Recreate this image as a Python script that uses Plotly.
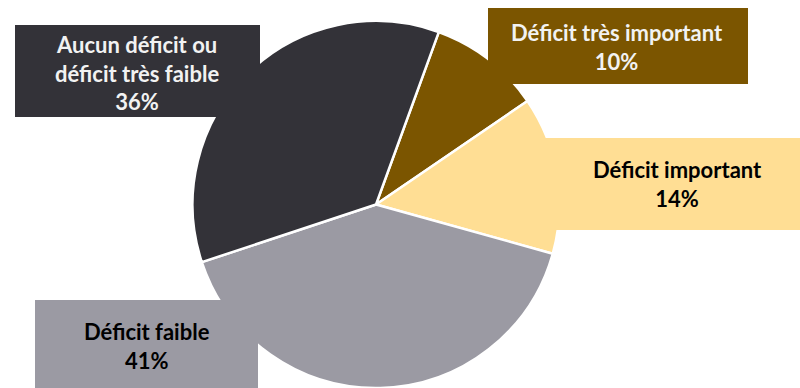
import plotly.graph_objects as go

categories = ["Déficit très important", "Déficit important", "Déficit faible",
              "Aucun déficit ou<br>déficit très faible"]
values = [10, 14, 41, 36]
colors = ["#7B5500", "#FFDE94", "#9B9AA3", "#333238"]
text_colors = ["#F2F2F2", "#000000", "#000000", "#F2F2F2"]

W, H = 800, 388

fig = go.Figure(go.Pie(
    labels=categories, values=values, sort=False, direction="clockwise",
    rotation=20, textinfo="none", hoverinfo="label+percent",
    marker=dict(colors=colors, line=dict(color="white", width=2.5)),
    domain=dict(x=[192 / W, 560 / W], y=[0, 367 / H]),
    showlegend=False,
))

# label boxes: (x0, y0, x1, y1) in pixels from top-left, text center
boxes = [
    (488, 8, 748, 84, 617, 47),
    (535, 138, 800, 230, 677, 184),
    (35, 300, 258, 388, 147, 346),
    (15, 25, 260, 117, 137, 73),
]

shapes, annotations = [], []
for (x0, y0, x1, y1, cx, cy), cat, v, c, tc in zip(boxes, categories, values, colors, text_colors):
    shapes.append(dict(type="rect", xref="paper", yref="paper", layer="above",
                       x0=x0 / W, x1=x1 / W, y0=1 - y1 / H, y1=1 - y0 / H,
                       fillcolor=c, line=dict(width=0)))
    annotations.append(dict(xref="paper", yref="paper", x=cx / W, y=1 - cy / H,
                            text=f"<b>{cat}<br>{v}%</b>", showarrow=False,
                            xanchor="center", yanchor="middle", align="center",
                            font=dict(family="Lato", size=22, color=tc)))

fig.update_layout(width=W, height=H, margin=dict(l=0, r=0, t=0, b=0),
                  paper_bgcolor="white", plot_bgcolor="white",
                  shapes=shapes, annotations=annotations)

fig.write_html("out.html", config={"displayModeBar": False},
               post_script="document.body.style.margin='0px';document.body.style.overflow='hidden';")
